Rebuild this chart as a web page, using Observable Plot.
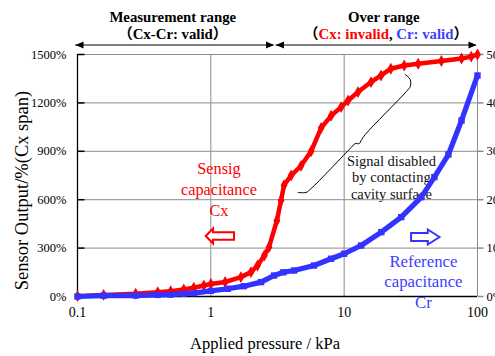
<!DOCTYPE html>
<html>
<head>
<meta charset="utf-8">
<script src="https://cdn.jsdelivr.net/npm/d3@7"></script>
<script src="https://cdn.jsdelivr.net/npm/@observablehq/plot@0.6"></script>
<style>
  html, body { margin: 0; padding: 0; background: #fff; overflow: hidden; }
</style>
</head>
<body>
<div id="chart"></div>
<script>
// ---- data ----
const pressureCx = [0.1, 0.157, 0.273, 0.4, 0.5, 0.627, 0.745, 0.886, 1.0, 1.28, 1.68, 2.0, 2.24, 2.52, 2.73, 3.13, 3.36, 3.54, 4.0, 4.75, 5.65, 6.72, 7.98, 9.49, 10.7, 12.7, 15.9, 18.9, 22.4, 28.2, 35.9, 53.6, 75.9, 89.8, 100];
const outputCx   = [2, 10, 17, 27, 33, 43, 54, 68, 78, 90, 120, 151, 192, 254, 306, 471, 595, 690, 750, 810, 900, 1045, 1120, 1174, 1215, 1267, 1329, 1370, 1412, 1432, 1443, 1460, 1475, 1487, 1500];

const pressureCr = [0.1, 0.157, 0.273, 0.4, 0.5, 0.627, 0.745, 1.0, 1.34, 1.77, 2.38, 2.98, 3.5, 4.21, 5.94, 7.98, 10, 13.4, 19, 26.8, 37.9, 47.5, 60.5, 75.9, 100];
const outputCr   = [0, 5, 6, 10, 12, 17, 21, 35, 48, 64, 89, 130, 150, 161, 192, 234, 265, 316, 399, 492, 616, 740, 880, 1091, 1370];

const xTicks = [0.1, 1, 10, 100];
const xTickLabels = ["0.1", "1", "10", "100"];
const yTicks = [0, 300, 600, 900, 1200, 1500];
const yTickLabels = ["0%", "300%", "600%", "900%", "1200%", "1500%"];
const rightTickLabels = ["0%", "100%", "200%", "300%", "400%", "500%"];

const headerLeft1 = "Measurement range";
const headerLeft2 = "（Cx-Cr: valid）";
const headerRight1 = "Over range";
const headerRight2 = "（Cx: invalid, Cr: valid）";
const labelCx = "Sensig\ncapacitance\nCx";
const labelCr = "Reference\ncapacitance\nCr";
const labelNote = "Signal disabled\nby contacting\ncavity surface";
const xTitle = "Applied pressure / kPa";
const yTitle = "Sensor Output/%(Cx span)";

// brace annotation path (data coordinates)
const braceX = [28.7, 31.3, 31.3, 29.3, 14.4, 13.4, 13.0, 12.1, 11.3, 5.65, 5.18, 4.51];
const braceY = [1376, 1345, 1302, 1271, 1004, 967, 948, 948, 924, 669, 645, 645];

// ---- tables ----
const cx = pressureCx.map((p, i) => ({p, v: outputCx[i]}));
const cr = pressureCr.map((p, i) => ({p, v: outputCr[i]}));
const brace = braceX.map((x, i) => ({x, y: braceY[i]}));
const yTickRows = yTicks.map((v, i) => ({v, label: yTickLabels[i], right: rightTickLabels[i]}));
const xTickRows = xTicks.map((p, i) => ({p, label: xTickLabels[i]}));

const RED = "#ff0000";
const BLUE = "#3333ff";
const GRID = "#8c8c8c";

// custom pixel symbols
const hollowLeft = {draw(c) {
  c.moveTo(-14.2, 0); c.lineTo(-6.9, -7.5); c.lineTo(-6.9, -3.7); c.lineTo(14.1, -3.7);
  c.lineTo(14.1, 3.7); c.lineTo(-6.9, 3.7); c.lineTo(-6.9, 7.5); c.closePath();
}};
const hollowRight = {draw(c) {
  c.moveTo(14.2, 0); c.lineTo(2.5, -7.5); c.lineTo(2.5, -4); c.lineTo(-14.2, -4);
  c.lineTo(-14.2, 4); c.lineTo(2.5, 4); c.lineTo(2.5, 7.5); c.closePath();
}};
const headLeft = {draw(c) { c.moveTo(0, 0); c.lineTo(8, -3.5); c.lineTo(8, 3.5); c.closePath(); }};
const headRight = {draw(c) { c.moveTo(0, 0); c.lineTo(-8, -3.5); c.lineTo(-8, 3.5); c.closePath(); }};
const tickIn = {draw(c) { c.moveTo(0, 0); c.lineTo(7, 0); }};
const tickOut = {draw(c) { c.moveTo(0, 0); c.lineTo(6, 0); }};

const serif = '"Liberation Serif", "Times New Roman", "Noto Sans CJK JP", serif';

const plot = Plot.plot({
  width: 495,
  height: 356,
  marginLeft: 77,
  marginRight: 18,
  marginTop: 54,
  marginBottom: 60,
  style: {fontFamily: serif, fontSize: "13px", background: "#fff", color: "#000", overflow: "visible"},
  x: {type: "log", domain: [0.1, 100], axis: null},
  y: {domain: [0, 1500], axis: null},
  marks: [
    // grid
    Plot.ruleY(yTicks.filter(d => d > 0), {stroke: GRID, strokeWidth: 1}),
    Plot.ruleX([1, 10, 100], {stroke: GRID, strokeWidth: 1}),
    // axes lines
    Plot.ruleX([0.1], {stroke: "#000", strokeWidth: 1.3}),
    Plot.ruleY([0], {stroke: "#000", strokeWidth: 1.3}),
    // left inward ticks, right outward ticks
    Plot.dot(yTickRows, {x: () => 0.1, y: "v", symbol: tickIn, stroke: "#000", fill: "none", r: 3}),
    Plot.dot(yTickRows, {x: () => 100, y: "v", symbol: tickOut, stroke: GRID, fill: "none", r: 3}),
    // tick labels
    Plot.text(yTickRows, {x: () => 0.1, y: "v", text: "label", textAnchor: "end", dx: -11, fontSize: 12.5}),
    Plot.text(yTickRows, {x: () => 100, y: "v", text: "right", textAnchor: "start", dx: 9, fontSize: 12.5}),
    Plot.text(xTickRows, {x: "p", y: () => 0, text: "label", dy: 16, fontSize: 14}),
    // axis titles
    Plot.text([xTitle], {x: () => 2.55, y: () => -291, text: d => d, fontSize: 16.5}),
    Plot.text([yTitle], {x: () => 0.0386, y: () => 657, text: d => d, rotate: -90, fontSize: 18.5}),
    // header
    Plot.text([headerLeft1], {x: () => 0.518, y: () => 1729, text: d => d, fontWeight: "bold", fontSize: 14.8}),
    Plot.text([headerLeft2], {x: () => 0.518, y: () => 1627, text: d => d, fontWeight: "bold", fontSize: 14.8}),
    Plot.text([headerRight1], {x: () => 19.8, y: () => 1729, text: d => d, fontWeight: "bold", fontSize: 14.8}),
    Plot.text([headerRight2], {x: () => 20.6, y: () => 1627, text: d => d, fontWeight: "bold", fontSize: 14.8}),
    Plot.ruleY([1559], {x1: 0.0966, x2: 2.977, stroke: "#000", strokeWidth: 1.2}),
    Plot.ruleY([1559], {x1: 3.08, x2: 98.3, stroke: "#000", strokeWidth: 1.2}),
    Plot.dot([0.0966, 3.08], {x: d => d, y: () => 1559, symbol: headLeft, fill: "#000", stroke: "none", r: 3}),
    Plot.dot([2.977, 98.3], {x: d => d, y: () => 1559, symbol: headRight, fill: "#000", stroke: "none", r: 3}),
    // annotations
    Plot.line(brace, {x: "x", y: "y", curve: "catmull-rom", stroke: "#000", strokeWidth: 1}),
    Plot.text([labelNote], {x: () => 22.6, y: () => 740, text: d => d, fontSize: 14.5, lineHeight: 1.15, fill: "#111"}),
    Plot.text([labelCx], {x: () => 1.15, y: () => 670, text: d => d, fontSize: 16.3, lineHeight: 1.3, fill: RED}),
    Plot.text([labelCr], {x: () => 39.3, y: () => 99, text: d => d, fontSize: 16.8, lineHeight: 1.22, fill: "#4040ff"}),
    Plot.dot([1.17], {x: d => d, y: () => 375, symbol: hollowLeft, stroke: RED, strokeWidth: 2, fill: "#fff", r: 3}),
    Plot.dot([40.6], {x: d => d, y: () => 369, symbol: hollowRight, stroke: BLUE, strokeWidth: 2, fill: "#fff", r: 3}),
    // series
    Plot.line(cx, {x: "p", y: "v", stroke: RED, strokeWidth: 4.5}),
    Plot.dot(cx, {x: "p", y: "v", symbol: "diamond", r: 3.6, fill: RED, stroke: "none"}),
    Plot.line(cr, {x: "p", y: "v", stroke: BLUE, strokeWidth: 5.2}),
    Plot.dot(cr, {x: "p", y: "v", symbol: "square", r: 3.6, fill: BLUE, stroke: "none"})
  ]
});

// colour the parts of the second "Over range" line
d3.select(plot).selectAll("text")
  .filter(function () { return this.textContent === headerRight2; })
  .each(function () {
    const t = d3.select(this);
    t.text(null);
    const parts = [["（", "#000"], ["Cx: invalid", RED], [", ", "#000"], ["Cr: valid", "#4040ff"], ["）", "#000"]];
    for (const [s, c] of parts) t.append("tspan").attr("fill", c).text(s);
  });

document.getElementById("chart").appendChild(plot);
</script>
</body>
</html>
